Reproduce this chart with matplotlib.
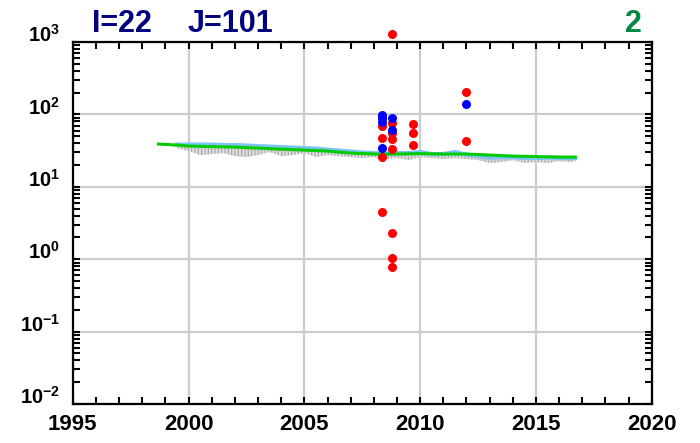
import numpy as np
import matplotlib
matplotlib.use('Agg')
import matplotlib.pyplot as plt
from matplotlib import rcParams
from matplotlib.ticker import FixedLocator, LogLocator, NullFormatter

rcParams['font.family'] = 'Liberation Sans'
rcParams['font.weight'] = 'bold'
rcParams['mathtext.fontset'] = 'custom'
rcParams['mathtext.rm'] = 'Liberation Sans:bold'
rcParams['mathtext.bf'] = 'Liberation Sans:bold'
rcParams['mathtext.default'] = 'regular'
rcParams['hatch.linewidth'] = 0.8

# band (grey spread) and light blue line, half-yearly
band_years = [1999.5, 2000, 2000.5, 2001, 2001.5, 2002, 2002.5, 2003, 2003.5, 2004,
              2004.5, 2005, 2005.5, 2006, 2006.5, 2007, 2007.5, 2008, 2008.5, 2009,
              2009.5, 2010, 2010.5, 2011, 2011.5, 2012, 2012.5, 2013, 2013.5, 2014,
              2014.5, 2015, 2015.5, 2016, 2016.5, 2016.7]
blue_line = [38.4, 38.4, 38.4, 38.4, 37.8, 37.8, 37.2, 36.6, 36.0, 35.4,
             34.9, 34.3, 33.8, 32.7, 31.7, 30.8, 29.8, 29.3, 28.8, 29.3,
             29.3, 30.3, 28.4, 28.4, 30.3, 27.9, 26.6, 25.4, 25.8, 25.8,
             25.0, 25.0, 25.4, 25.0, 25.0, 25.0]
band_low = [34.3, 31.2, 27.5, 28.4, 29.3, 26.6, 25.8, 27.5, 30.3, 26.6,
            27.5, 29.3, 25.8, 27.5, 26.6, 25.8, 25.0, 25.8, 24.2, 25.0,
            23.4, 25.8, 25.0, 24.2, 25.0, 24.2, 23.4, 21.3, 22.0, 23.4,
            21.3, 22.0, 21.3, 22.7, 22.0, 22.7]

green_years = [1998.7, 1999.5, 2000, 2001, 2002, 2003, 2004, 2005, 2006, 2007,
               2008, 2009, 2010, 2011, 2012, 2013, 2014, 2015, 2016, 2016.7]
green_line = [39.0, 37.8, 36.6, 36.0, 35.4, 34.3, 33.2, 32.2, 31.2, 29.3,
              28.4, 28.4, 28.8, 28.4, 28.4, 27.5, 26.6, 26.2, 25.8, 25.8]

red_years = [2008.37, 2008.37, 2008.37, 2008.37,
             2008.8, 2008.8, 2008.8, 2008.8, 2008.8, 2008.8, 2008.8, 2008.8,
             2009.7, 2009.7, 2009.7,
             2012.0, 2012.0]
red_vals = [69, 47.6, 25.8, 4.5,
            1290, 75.4, 54.8, 45.7, 33.6, 2.30, 1.05, 0.77,
            74.4, 55.9, 37.8,
            204, 43.3]
blue_years = [2008.37, 2008.37, 2008.37, 2008.37, 2008.8, 2008.8, 2012.0]
blue_vals = [98, 88, 79, 34.7, 90, 61, 140.6]

fig = plt.figure(figsize=(7.0, 4.43), dpi=100)
ax = fig.add_axes([0.104, 0.088, 0.827, 0.817])

ax.fill_between(band_years, band_low, blue_line, facecolor='#dddddd',
                edgecolor='#a8a8a8', hatch='|||||', linewidth=0, zorder=2)
ax.plot(band_years, blue_line, color='#7cc4f4', lw=3, zorder=3)
ax.plot(green_years, green_line, color='#00cc00', lw=2.2, zorder=4)

ax.plot(red_years, red_vals, 'o', color='#ff0000', ms=6.5, mec='none',
        zorder=5, clip_on=False)
ax.plot(blue_years, blue_vals, 'o', color='#0000ff', ms=6.5, mec='none',
        zorder=6, clip_on=False)

ax.set_yscale('log')
ax.set_xlim(1995, 2020)
ax.set_ylim(1e-2, 1e3)

ax.set_xticks([1995, 2000, 2005, 2010, 2015, 2020])
ax.xaxis.set_minor_locator(FixedLocator(np.arange(1995, 2021, 1)))
ax.set_yticks([1e-2, 1e-1, 1e0, 1e1, 1e2, 1e3])
ax.set_yticklabels([r'$10^{-2}$', r'$10^{-1}$', r'$10^{0}$',
                    r'$10^{1}$', r'$10^{2}$', r'$10^{3}$'])
ax.yaxis.set_minor_locator(LogLocator(base=10, subs=np.arange(2, 10)))
ax.yaxis.set_minor_formatter(NullFormatter())

for lab in ax.get_yticklabels():
    lab.set_va('baseline')
    lab.set_fontsize(14.5)
for lab in ax.get_xticklabels():
    lab.set_fontsize(16)
    lab.set_fontweight('bold')

ax.tick_params(which='both', direction='in', top=True, right=True,
               width=1.5, length=5)
ax.tick_params(axis='x', which='major', pad=7)
ax.tick_params(axis='y', which='major', pad=9)

ax.grid(True, which='major', color='#cccccc', lw=1.6, zorder=0)
ax.set_axisbelow(True)
for s in ax.spines.values():
    s.set_linewidth(1.6)

fig.text(92 / 700, 1 - 32 / 443, 'I=22', color='#000080', fontsize=22,
         fontweight='bold', ha='left', va='baseline')
fig.text(188 / 700, 1 - 32 / 443, 'J=101', color='#000080', fontsize=22,
         fontweight='bold', ha='left', va='baseline')
fig.text(642 / 700, 1 - 32 / 443, '2', color='#008844', fontsize=22,
         fontweight='bold', ha='right', va='baseline')

fig.savefig('out.png', dpi=100)
